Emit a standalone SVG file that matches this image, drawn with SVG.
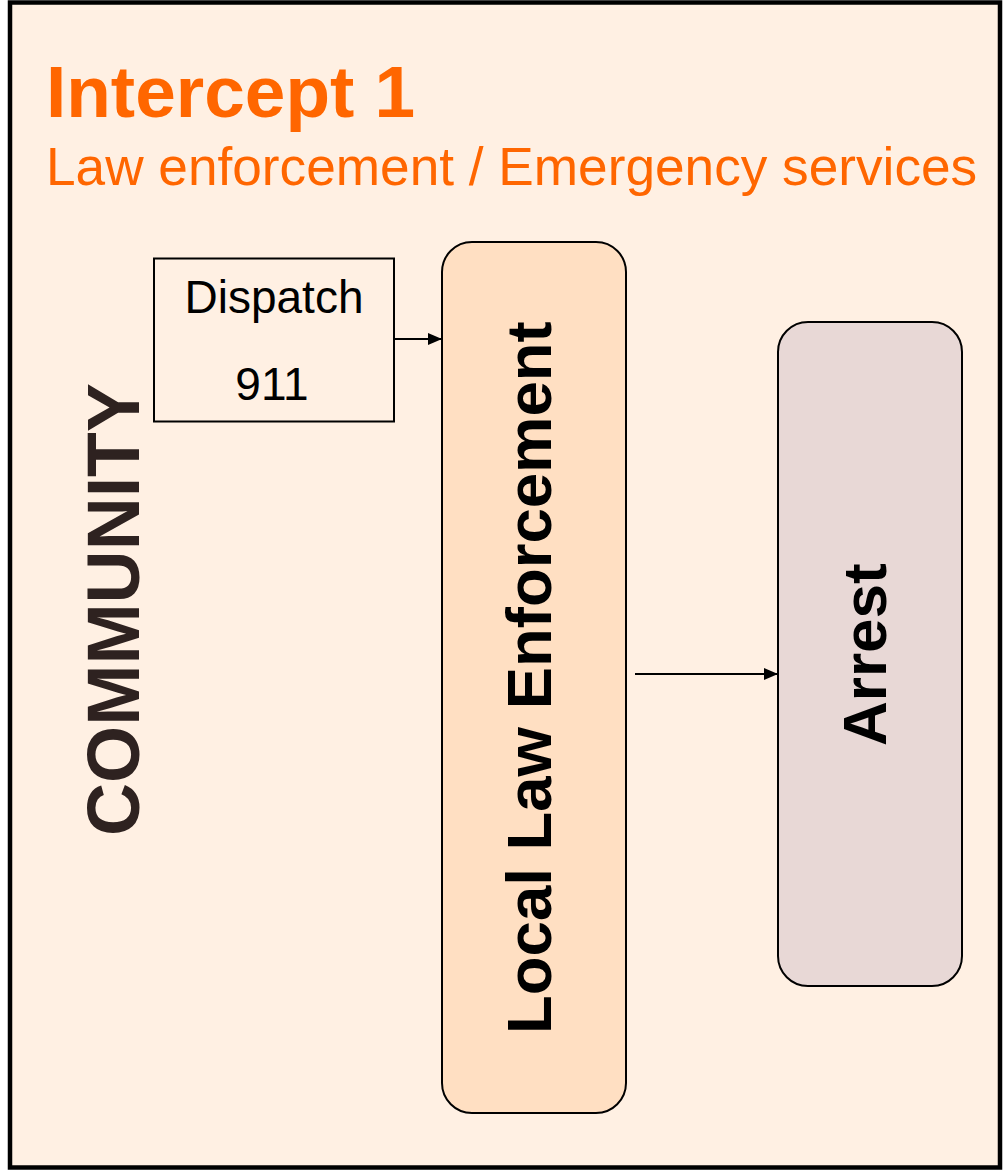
<svg xmlns="http://www.w3.org/2000/svg" width="1004" height="1171" viewBox="0 0 1004 1171">
<style>
.frame{fill:#FFF0E3;stroke:#000;stroke-width:4.5}
.title{font-family:"Liberation Sans",Arial,sans-serif;fill:#FF6600}
.lbl{font-family:"Liberation Sans",Arial,sans-serif;fill:#000}
.box{stroke:#000;stroke-width:2}
.conn{stroke:#000;stroke-width:2;fill:none}
</style>
<defs>
<marker id="ah" markerWidth="14" markerHeight="12" refX="14" refY="6" orient="auto" markerUnits="userSpaceOnUse">
<path d="M0,0 L14,6 L0,12 Z" fill="#000"/>
</marker>
</defs>
<rect class="frame" x="10" y="2.5" width="990" height="1165"/>
<text class="title" x="46" y="117" font-size="73" font-weight="bold">Intercept 1</text>
<text class="title" x="46" y="185" font-size="53.2">Law enforcement / Emergency services</text>
<g id="community">
<text class="lbl" transform="translate(139,836) rotate(-90)" font-size="74" font-weight="bold" style="fill:#2E2220" textLength="453" lengthAdjust="spacingAndGlyphs">COMMUNITY</text>
</g>
<g id="dispatch">
<rect class="box" x="154" y="258.5" width="240" height="163" fill="#FFF0E3"/>
<text class="lbl" x="274" y="313" font-size="46" text-anchor="middle">Dispatch</text>
<text class="lbl" x="272" y="400" font-size="46" text-anchor="middle">911</text>
</g>
<g id="local-law-enforcement">
<rect class="box" x="442" y="242" width="184" height="871" rx="30" ry="30" fill="#FFDFC2"/>
<text class="lbl" transform="translate(551,1034) rotate(-90)" font-size="63.5" font-weight="bold">Local Law Enforcement</text>
</g>
<g id="arrest">
<rect class="box" x="778" y="322" width="184" height="664" rx="30" ry="30" fill="#E8D8D6"/>
<text class="lbl" transform="translate(886,746) rotate(-90)" font-size="62" font-weight="bold">Arrest</text>
</g>
<g id="connectors">
<line class="conn" x1="394" y1="339" x2="442" y2="339" marker-end="url(#ah)"/>
<line class="conn" x1="635" y1="674" x2="778" y2="674" marker-end="url(#ah)"/>
</g>
</svg>
